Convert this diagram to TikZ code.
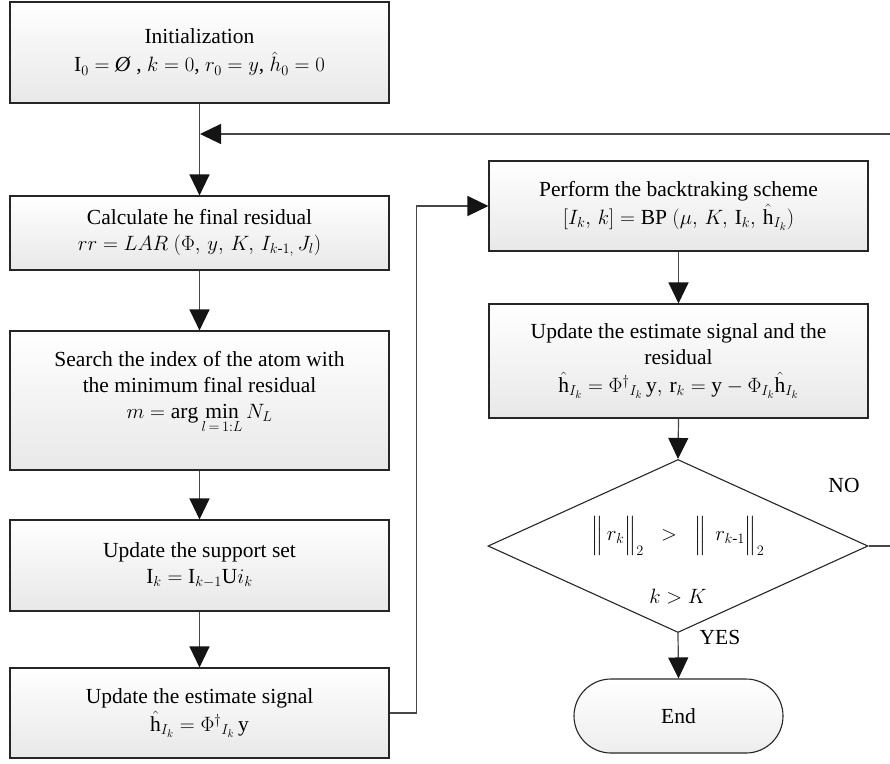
\documentclass[tikz,border=0pt]{standalone}
\usepackage{amsmath,amssymb}
\usepackage{fontspec}
\setmainfont{Liberation Serif}
\usetikzlibrary{arrows.meta,shapes.geometric,shapes.misc}
\begin{document}
\begin{tikzpicture}[x=1pt,y=-1pt,
  box/.style={draw=black!85, line width=1.1pt, top color=white, bottom color=black!9,
    minimum width=379pt, align=center, inner sep=0pt,
    font=\fontsize{21.5}{26}\selectfont},
  conn/.style={draw=black!72, line width=1.2pt},
  arr/.style={conn, -{Triangle[width=20pt,length=21pt,color=black!92]}},
  lbl/.style={font=\fontsize{21.5}{26}\selectfont, inner sep=0pt}]
\useasboundingbox (0,0) rectangle (890,763);

\node[box, minimum height=101pt] (init) at (199.5,52.5)
  {Initialization\\[2pt] $\mathrm{I}_0 =$ \textit{Ø} , $k = 0$, $r_0 = y$, $\hat{h}_0 = 0$};
\node[box, minimum height=74pt] (calc) at (199.5,233)
  {Calculate he final residual\\ $rr = LAR\ (\Phi,\, y,\, K,\, I_{k\text{-}1,}\, J_l)$};
\node[box, minimum height=139pt] (search) at (199.5,400.5)
  {Search the index of the atom with\\ the minimum final residual\\ $m = \arg\min\limits_{l\,=\,1:L} N_L$\\[6pt]};
\node[box, minimum height=91pt] (support) at (199.5,565.5)
  {Update the support set\\ $\mathrm{I}_k = \mathrm{I}_{k-1}\mathrm{U}i_k$};
\node[box, minimum height=90pt] (estim) at (199.5,713)
  {Update the estimate signal\\[2pt] $\hat{\mathrm{h}}_{I_k} = \Phi^{\dagger}{}_{I_k}\,\mathrm{y}$};

\node[box, minimum height=90pt] (bp) at (678.5,206)
  {Perform the backtraking scheme\\[2pt] $[I_k,\, k] = \mathrm{BP}\ (\mu,\, K,\, \mathrm{I}_k,\, \hat{\mathrm{h}}_{I_k})$};
\node[box, minimum height=114pt] (upd) at (678.5,361)
  {Update the estimate signal and the\\ residual\\[2pt] $\hat{\mathrm{h}}_{I_k} = \Phi^{\dagger}{}_{I_k}\,\mathrm{y},\, \mathrm{r}_k = \mathrm{y} - \Phi_{I_k}\hat{\mathrm{h}}_{I_k}$};

\node[diamond, draw=black!85, line width=1.1pt, fill=white, inner sep=0pt,
  minimum width=380pt, minimum height=173pt, aspect=2.2] (dia) at (678,546) {};
\node[lbl] (cond1) at (678,536) {$\Big\|\, r_k \Big\|_2 \;\;>\;\; \Big\|\;\, r_{k\text{-}1} \Big\|_2$};
\node[lbl] (cond2) at (678,597) {$k > K$};

\node[rounded rectangle, draw=black!85, line width=1.1pt, top color=white, bottom color=black!7,
  minimum width=209pt, minimum height=74pt, inner sep=0pt,
  font=\fontsize{21.5}{26}\selectfont] (end) at (678.5,716) {End};

\node[lbl] (no) at (844,485) {NO};
\node[lbl] (yes) at (720,637) {YES};

\coordinate (jn) at (200,134);
\coordinate (rt) at (892,134);
\coordinate (rb) at (892,546);

\draw[arr] (init.south) -- (calc.north);
\draw[arr] (dia.east) -- (rb) -- (rt) -- (jn);
\draw[arr] (calc.south) -- (search.north);
\draw[arr] (search.south) -- (support.north);
\draw[arr] (support.south) -- (estim.north);
\draw[arr] (estim.east) -- ++(27,0) |- (bp.west);
\draw[arr] (bp.south) -- (upd.north);
\draw[arr] (upd.south) -- (dia.north);
\draw[arr] (dia.south) -- (end.north);
\end{tikzpicture}
\end{document}
